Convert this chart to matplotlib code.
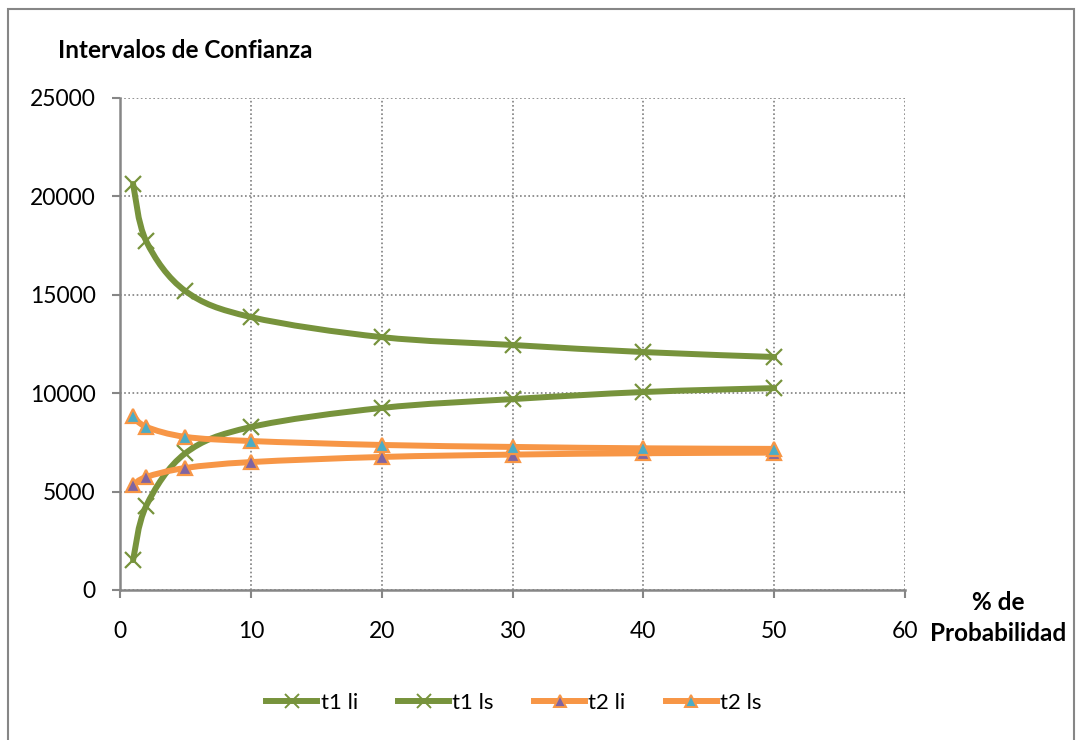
import numpy as np
import matplotlib
matplotlib.use("Agg")
import matplotlib.pyplot as plt
from matplotlib.path import Path
from matplotlib.patches import PathPatch, Rectangle
from matplotlib.lines import Line2D

plt.rcParams['font.family'] = ['Lato', 'DejaVu Sans']

prob = [1, 2, 5, 10, 20, 30, 40, 50]
t1_li = [1520, 4270, 6950, 8280, 9250, 9700, 10060, 10260]
t1_ls = [20630, 17730, 15190, 13870, 12850, 12450, 12090, 11840]
t2_li = [5330, 5740, 6200, 6500, 6760, 6880, 6950, 6980]
t2_ls = [8840, 8290, 7780, 7570, 7370, 7270, 7200, 7170]

green = '#77933C'
orange = '#F79646'
purple = '#8064A2'
teal = '#4BACC6'
grey = '#868686'

fig = plt.figure(figsize=(10.78, 7.4), dpi=100)
ax = fig.add_axes([120/1078, 1 - 590/740, 785/1078, 492/740])


def smooth_path(xs, ys):
    # Excel-style smoothed line: cubic bezier segments (Catmull-Rom tangents)
    pts = np.column_stack([xs, ys]).astype(float)
    n = len(pts)
    verts = [pts[0]]
    codes = [Path.MOVETO]
    for i in range(n - 1):
        p0 = pts[max(i - 1, 0)]
        p1 = pts[i]
        p2 = pts[i + 1]
        p3 = pts[min(i + 2, n - 1)]
        c1 = p1 + (p2 - p0) / 6
        c2 = p2 - (p3 - p1) / 6
        verts += [c1, c2, p2]
        codes += [Path.CURVE4] * 3
    return Path(verts, codes)


series = [
    ('t1 li', t1_li, green, 'x', green, green),
    ('t1 ls', t1_ls, green, 'x', green, green),
    ('t2 li', t2_li, orange, '^', purple, orange),
    ('t2 ls', t2_ls, orange, '^', teal, orange),
]

handles = []
for name, ys, col, mk, fc, ec in series:
    ax.add_patch(PathPatch(smooth_path(prob, ys), facecolor='none',
                           edgecolor=col, lw=4.3, capstyle='round', zorder=3))
    if mk == 'x':
        ax.plot(prob, ys, ls='none', marker='x', ms=11, mew=1.6,
                color=col, zorder=4)
    else:
        ax.plot(prob, ys, ls='none', marker='^', ms=10, mfc=fc, mec=ec,
                mew=1.6, zorder=4)
    handles.append(Line2D([], [], color=col, lw=4.3, marker=mk,
                          ms=9 if mk == '^' else 10, mfc=fc, mec=ec,
                          mew=1.4, label=name))

ax.set_xlim(0, 60)
ax.set_ylim(0, 25000)
ax.set_xticks(range(0, 61, 10))
ax.set_yticks(range(0, 25001, 5000))
ax.grid(True, color='#7f7f7f', ls=(0, (1, 1.5)), lw=1.2)
ax.set_axisbelow(True)
for s in ['top', 'right']:
    ax.spines[s].set_visible(False)
for s in ['left', 'bottom']:
    ax.spines[s].set_color(grey)
    ax.spines[s].set_linewidth(1.8)
ax.tick_params(axis='both', direction='out', length=5.5, width=1.5,
               color=grey, labelsize=16.5)
ax.tick_params(axis='x', pad=17)
ax.tick_params(axis='y', pad=12)

fig.text(58/1078, 1 - 50/740, 'Intervalos de Confianza', fontsize=17.5,
         fontweight='bold', va='center', ha='left')
fig.text(998/1078, 1 - 618/740, '% de\nProbabilidad', fontsize=17.5,
         fontweight='bold', va='center', ha='center', linespacing=1.45)

fig.legend(handles=handles, loc='center', bbox_to_anchor=(514/1078, 1 - 703/740),
           ncol=4, frameon=False, fontsize=16, handlelength=2.3,
           handletextpad=0.15, columnspacing=1.8)

fig.add_artist(Rectangle((8/1078, -0.02), 1066/1078, 1 - 9/740 + 0.02,
                         transform=fig.transFigure, fill=False,
                         edgecolor=grey, lw=1.5))

fig.savefig('out.png', dpi=100)
